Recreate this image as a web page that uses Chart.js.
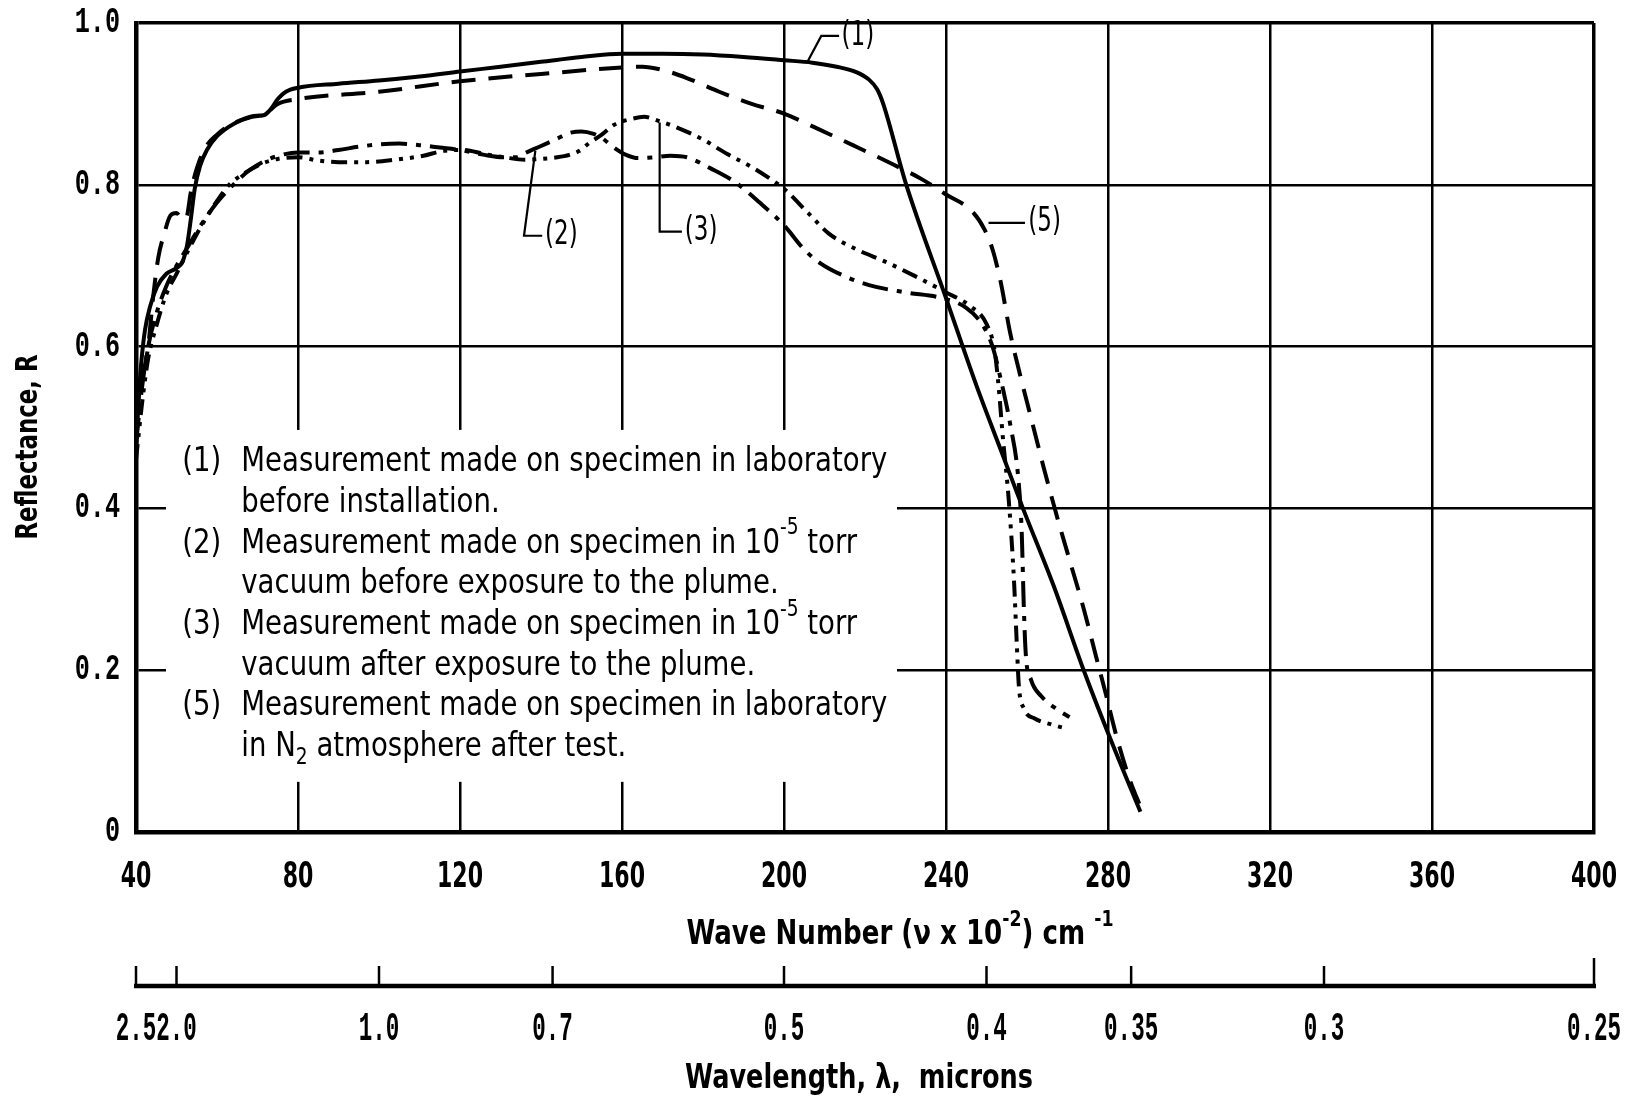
<!DOCTYPE html>
<html>
<head>
<meta charset="utf-8">
<title>Reflectance vs wave number</title>
<script src="https://cdn.jsdelivr.net/npm/chart.js@4.4.1/dist/chart.umd.min.js"></script>
<style>
  html, body { margin: 0; padding: 0; background: #fff; }
  #wrap { width: 1632px; height: 1101px; position: relative; }
</style>
</head>
<body>
<div id="wrap"><canvas id="chart"></canvas></div>
<script>
// Wave number in units of 10^2 cm^-1, reflectance R (0..1)

// (1) lab, before installation - solid
const curve1Nu = [40, 40.6, 41.3, 42.2, 43.5, 45.2, 47.5, 50, 51.5, 52.6, 53.6, 54.5, 55.8, 57.5, 60, 63, 66, 69, 71.5, 73.2, 75, 77, 80, 90, 100, 110, 120, 130, 140, 150, 160, 170, 180, 190, 200, 207, 213, 218, 221, 223, 224.5, 230, 240, 247.5, 253.7, 259, 266.6, 274, 281, 288];
const curve1R = [0.47, 0.53, 0.58, 0.62, 0.65, 0.674, 0.69, 0.697, 0.705, 0.725, 0.76, 0.795, 0.823, 0.843, 0.86, 0.872, 0.88, 0.885, 0.886, 0.893, 0.906, 0.915, 0.92, 0.925, 0.929, 0.934, 0.94, 0.946, 0.952, 0.958, 0.962, 0.962, 0.961, 0.958, 0.954, 0.951, 0.946, 0.939, 0.93, 0.918, 0.9, 0.803, 0.66, 0.552, 0.47, 0.4, 0.304, 0.2, 0.11, 0.025];

// (2) vacuum, before plume - long dash / dot
const curve2Nu = [40, 41.5, 43, 45, 47.5, 50, 53, 56, 60, 64, 68, 72, 76, 80, 85, 90, 95, 100, 105, 110, 115, 120, 126, 131, 134, 136, 140, 144, 147, 150, 153, 155, 158, 161, 164, 168, 172, 176, 182, 188, 194, 200, 205, 209, 215, 221, 230, 239, 245, 249, 251.5, 253.5, 256, 257.8, 258.7, 259.2, 259.7, 261, 263.5, 267, 270.5];
const curve2R = [0.48, 0.55, 0.6, 0.64, 0.675, 0.7, 0.725, 0.75, 0.778, 0.8, 0.818, 0.83, 0.837, 0.84, 0.84, 0.843, 0.847, 0.85, 0.851, 0.849, 0.846, 0.843, 0.837, 0.834, 0.834, 0.839, 0.848, 0.857, 0.864, 0.866, 0.863, 0.858, 0.846, 0.837, 0.833, 0.834, 0.836, 0.834, 0.82, 0.803, 0.778, 0.75, 0.72, 0.703, 0.687, 0.676, 0.667, 0.66, 0.648, 0.627, 0.6, 0.56, 0.5, 0.44, 0.37, 0.28, 0.22, 0.188, 0.168, 0.153, 0.142];

// (3) vacuum, after plume - dash / dot / dot
const curve3Nu = [40, 41.5, 43, 45, 47.5, 50, 53, 56, 60, 63, 67, 71, 75, 80, 85, 90, 97, 104, 111, 116, 121, 126, 131, 136, 140, 144, 147, 149.5, 152, 155, 158, 162, 165.5, 169, 173, 180, 186, 192, 197, 200, 206, 211, 218, 225, 232, 240, 246, 250, 252, 253, 254, 255.5, 256.8, 257.5, 258, 259.2, 262, 266, 269.5];
const curve3R = [0.46, 0.53, 0.585, 0.625, 0.665, 0.69, 0.72, 0.748, 0.78, 0.8, 0.815, 0.826, 0.832, 0.834, 0.83, 0.828, 0.828, 0.831, 0.836, 0.842, 0.843, 0.838, 0.834, 0.831, 0.832, 0.834, 0.837, 0.842, 0.852, 0.862, 0.874, 0.881, 0.884, 0.879, 0.872, 0.856, 0.838, 0.822, 0.806, 0.795, 0.765, 0.74, 0.72, 0.705, 0.688, 0.667, 0.65, 0.628, 0.595, 0.55, 0.49, 0.41, 0.31, 0.23, 0.18, 0.153, 0.14, 0.133, 0.128];

// (5) lab, N2 after test - dashed
const curve5Nu = [40, 41.5, 43, 44.2, 45.5, 47, 48.5, 50, 51.5, 52.5, 53.5, 55, 57, 60, 64, 68, 72, 75, 80, 100, 120, 140, 160, 165, 170, 176, 184, 192, 200, 208, 217, 227, 234, 240, 246.5, 249.5, 251.5, 253.5, 255.8, 258.3, 261.2, 264.1, 267.4, 270.7, 274, 277, 279.5, 282, 285, 288.5];
const curve5R = [0.52, 0.56, 0.6, 0.66, 0.71, 0.74, 0.762, 0.765, 0.757, 0.76, 0.79, 0.82, 0.845, 0.862, 0.876, 0.883, 0.888, 0.9, 0.906, 0.915, 0.928, 0.937, 0.945, 0.946, 0.942, 0.932, 0.915, 0.9, 0.888, 0.87, 0.849, 0.825, 0.807, 0.788, 0.767, 0.745, 0.72, 0.68, 0.618, 0.565, 0.508, 0.451, 0.39, 0.333, 0.276, 0.218, 0.17, 0.12, 0.07, 0.025];

// axis ticks
const waveNumberTicks = [40, 80, 120, 160, 200, 240, 280, 320, 360, 400];
const reflectanceTicks = [0, 0.2, 0.4, 0.6, 0.8, 1.0];
const reflectanceLabels = ['0', '0.2', '0.4', '0.6', '0.8', '1.0'];
const wavelengthTicks = [2.5, 2.0, 1.0, 0.7, 0.5, 0.4, 0.35, 0.3, 0.25];
const wavelengthLabels = ['2.5', '2.0', '1.0', '0.7', '0.5', '0.4', '0.35', '0.3', '0.25'];

// notes block text
const noteTags = ['(1)', '', '(2)', '', '(3)', '', '(5)', ''];
const noteLines = [
  [['Measurement made on specimen in laboratory']],
  [['before installation.']],
  [['Measurement made on specimen in 10'], ['-5', 'sup'], [' torr']],
  [['vacuum before exposure to the plume.']],
  [['Measurement made on specimen in 10'], ['-5', 'sup'], [' torr']],
  [['vacuum after exposure to the plume.']],
  [['Measurement made on specimen in laboratory']],
  [['in N'], ['2', 'sub'], [' atmosphere after test.']]
];

// curve callouts: leader polyline (nu, R) and label position
const callouts = [
  { text: '(1)', path: [[205.8, 0.952], [209.2, 0.984], [213.6, 0.984]], at: [214.2, 0.984] },
  { text: '(5)', path: [[250.5, 0.753], [259.5, 0.753]], at: [260.3, 0.753] },
  { text: '(2)', path: [[138.6, 0.842], [135.8, 0.737], [140.3, 0.737]], at: [141, 0.737] },
  { text: '(3)', path: [[169.3, 0.877], [169.3, 0.742], [174.8, 0.742]], at: [175.5, 0.742] }
];

const SANS = "'DejaVu Sans Condensed', 'DejaVu Sans', 'Liberation Sans', sans-serif";
const NOTE = "'DejaVu Sans', 'Liberation Sans', sans-serif";
const MONO = "'Liberation Mono', 'DejaVu Sans Mono', monospace";

function toPoints(xs, ys) {
  return xs.map((x, i) => ({ x: x, y: ys[i] }));
}

function runsWidth(ctx, runs, size, weight, family) {
  let w = 0;
  runs.forEach(([t, kind]) => {
    const s = kind ? Math.round(size * 0.68) : size;
    ctx.font = `${weight} ${s}px ${family}`;
    w += ctx.measureText(t).width;
  });
  return w;
}

function drawRuns(ctx, runs, x, y, size, weight, family, sx) {
  let cx = x;
  runs.forEach(([t, kind]) => {
    const s = kind ? Math.round(size * 0.68) : size;
    const dy = kind === 'sup' ? -size * 0.45 : (kind === 'sub' ? size * 0.32 : 0);
    ctx.font = `${weight} ${s}px ${family}`;
    ctx.save();
    ctx.translate(cx, y + dy);
    ctx.scale(sx, 1);
    ctx.fillText(t, 0, 0);
    ctx.restore();
    cx += ctx.measureText(t).width * sx;
  });
}

// text squeezed to a given width, centred on (cx, cy)
function drawFitted(ctx, runs, cx, cy, width, size, weight, family) {
  const w = runsWidth(ctx, runs, size, weight, family);
  drawRuns(ctx, runs, cx - width / 2, cy, size, weight, family, width / w);
}

// single label, horizontally squeezed by sx, aligned 'center' or 'right'
function drawLabel(ctx, text, px, py, size, weight, family, sx, align) {
  ctx.font = `${weight} ${size}px ${family}`;
  const w = ctx.measureText(text).width * sx;
  const left = align === 'right' ? px - w : px - w / 2;
  drawRuns(ctx, [[text]], left, py, size, weight, family, sx);
}

const overlay = {
  id: 'overlay',
  beforeDatasetsDraw(chart) {
    // blank area behind the notes (grid is interrupted there)
    const { ctx, scales: { x, y } } = chart;
    const x0 = x.getPixelForValue(47.4), x1 = x.getPixelForValue(227.9);
    const y0 = y.getPixelForValue(0.497), y1 = y.getPixelForValue(0.062);
    ctx.save();
    ctx.fillStyle = '#fff';
    ctx.fillRect(x0, y0, x1 - x0, y1 - y0);
    ctx.restore();
  },
  afterDraw(chart) {
    const { ctx, scales: { x, y, x2 } } = chart;
    ctx.save();
    ctx.fillStyle = '#000';
    ctx.strokeStyle = '#000';
    ctx.textBaseline = 'middle';
    ctx.textAlign = 'left';

    // tick labels
    waveNumberTicks.forEach(v => {
      drawLabel(ctx, String(v), x.getPixelForValue(v), x.top + 46, 35, 'bold', SANS, 0.7, 'center');
    });
    reflectanceTicks.forEach((v, i) => {
      drawLabel(ctx, reflectanceLabels[i], y.right - 16, y.getPixelForValue(v), 36, 'bold', MONO, 0.7, 'right');
    });
    wavelengthTicks.forEach((lam, i) => {
      drawLabel(ctx, wavelengthLabels[i], x2.getPixelForValue(100 / lam), x2.top + 72, 41, 'bold', MONO, 0.55, 'center');
    });

    // notes
    const size = 34;
    const sx = 646 / runsWidth(ctx, noteLines[0], size, 'normal', NOTE);
    const tagX = x.getPixelForValue(51.4);
    const textX = x.getPixelForValue(66.0);
    const top = y.getPixelForValue(0.457);
    noteLines.forEach((runs, i) => {
      const ly = top + i * 40.7;
      if (noteTags[i]) drawRuns(ctx, [[noteTags[i]]], tagX, ly, size, 'normal', NOTE, sx);
      drawRuns(ctx, runs, textX, ly, size, 'normal', NOTE, sx);
    });

    // callouts
    ctx.lineWidth = 2.2;
    callouts.forEach(c => {
      ctx.beginPath();
      c.path.forEach(([n, r], i) => {
        const px = x.getPixelForValue(n), py = y.getPixelForValue(r);
        if (i === 0) ctx.moveTo(px, py); else ctx.lineTo(px, py);
      });
      ctx.stroke();
      drawRuns(ctx, [[c.text]], x.getPixelForValue(c.at[0]), y.getPixelForValue(c.at[1]), 33, 'normal', NOTE, 0.7);
    });

    // axis titles
    drawFitted(ctx, [['Wave Number (\u03bd x 10'], ['-2', 'sup'], [') cm '], ['-1', 'sup']], 900, 935, 427, 33, 'bold', SANS);
    drawFitted(ctx, [['Wavelength, \u03bb,  microns']], 859, 1079, 348, 33, 'bold', SANS);
    ctx.save();
    ctx.translate(29, 447);
    ctx.rotate(-Math.PI / 2);
    drawFitted(ctx, [['Reflectance, R']], 0, 0, 185, 31, 'bold', SANS);
    ctx.restore();

    // wavelength scale: base line with upward ticks
    const base = x2.top + 28;
    ctx.lineWidth = 4.5;
    ctx.beginPath();
    ctx.moveTo(x2.left - 2, base);
    ctx.lineTo(x2.right + 2, base);
    ctx.stroke();
    ctx.lineWidth = 2.5;
    wavelengthTicks.forEach((lam, i) => {
      const px = x2.getPixelForValue(100 / lam);
      const h = i === wavelengthTicks.length - 1 ? 28 : 20;
      ctx.beginPath();
      ctx.moveTo(px, base);
      ctx.lineTo(px, base - h);
      ctx.stroke();
    });
    ctx.restore();
  }
};

const lineBase = {
  borderColor: '#000',
  pointRadius: 0,
  borderWidth: 4,
  fill: false,
  cubicInterpolationMode: 'monotone',
  borderCapStyle: 'butt',
  clip: 8
};

// empty axis used only to reserve margin space
function spacer(position, size) {
  return {
    type: 'linear',
    position: position,
    min: 0,
    max: 1,
    grid: { display: false, drawTicks: false },
    border: { display: false },
    ticks: { display: false },
    afterFit: s => { if (s.isHorizontal()) s.height = size; else s.width = size; }
  };
}

new Chart(document.getElementById('chart'), {
  type: 'line',
  data: {
    datasets: [
      Object.assign({ label: '(1)', data: toPoints(curve1Nu, curve1R) }, lineBase),
      Object.assign({ label: '(2)', data: toPoints(curve2Nu, curve2R) }, lineBase, { borderDash: [26, 9, 5, 9] }),
      Object.assign({ label: '(3)', data: toPoints(curve3Nu, curve3R) }, lineBase, { borderDash: [16, 7, 4, 7, 4, 7] }),
      Object.assign({ label: '(5)', data: toPoints(curve5Nu, curve5R) }, lineBase, { borderDash: [24, 13] })
    ]
  },
  options: {
    responsive: true,
    maintainAspectRatio: false,
    animation: false,
    layout: { padding: 0 },
    plugins: { legend: { display: false }, tooltip: { enabled: false } },
    scales: {
      x: {
        type: 'linear',
        position: 'bottom',
        min: 40,
        max: 400,
        afterBuildTicks: s => { s.ticks = waveNumberTicks.map(v => ({ value: v })); },
        afterFit: s => { s.height = 126; },
        grid: { color: '#000', lineWidth: c => (c.tick && c.tick.value === 400 ? 3.5 : 2.5), drawTicks: false },
        border: { color: '#000', width: 4.5 },
        ticks: { display: false, autoSkip: false }
      },
      x2: {
        type: 'linear',
        position: 'bottom',
        min: 40,
        max: 400,
        afterBuildTicks: s => { s.ticks = wavelengthTicks.map(l => ({ value: 100 / l })); },
        afterFit: s => { s.height = 143; },
        grid: { display: false, drawTicks: false },
        border: { display: false },
        ticks: { display: false, autoSkip: false }
      },
      y: {
        type: 'linear',
        min: 0,
        max: 1,
        afterBuildTicks: s => { s.ticks = reflectanceTicks.map(v => ({ value: v })); },
        afterFit: s => { s.width = 136; },
        grid: { color: '#000', lineWidth: c => (c.tick && c.tick.value === 1 ? 3.5 : 2.5), drawTicks: false },
        border: { color: '#000', width: 4.5 },
        ticks: { display: false }
      },
      topSpace: spacer('top', 23),
      rightSpace: spacer('right', 38)
    }
  },
  plugins: [overlay]
});
</script>
</body>
</html>
